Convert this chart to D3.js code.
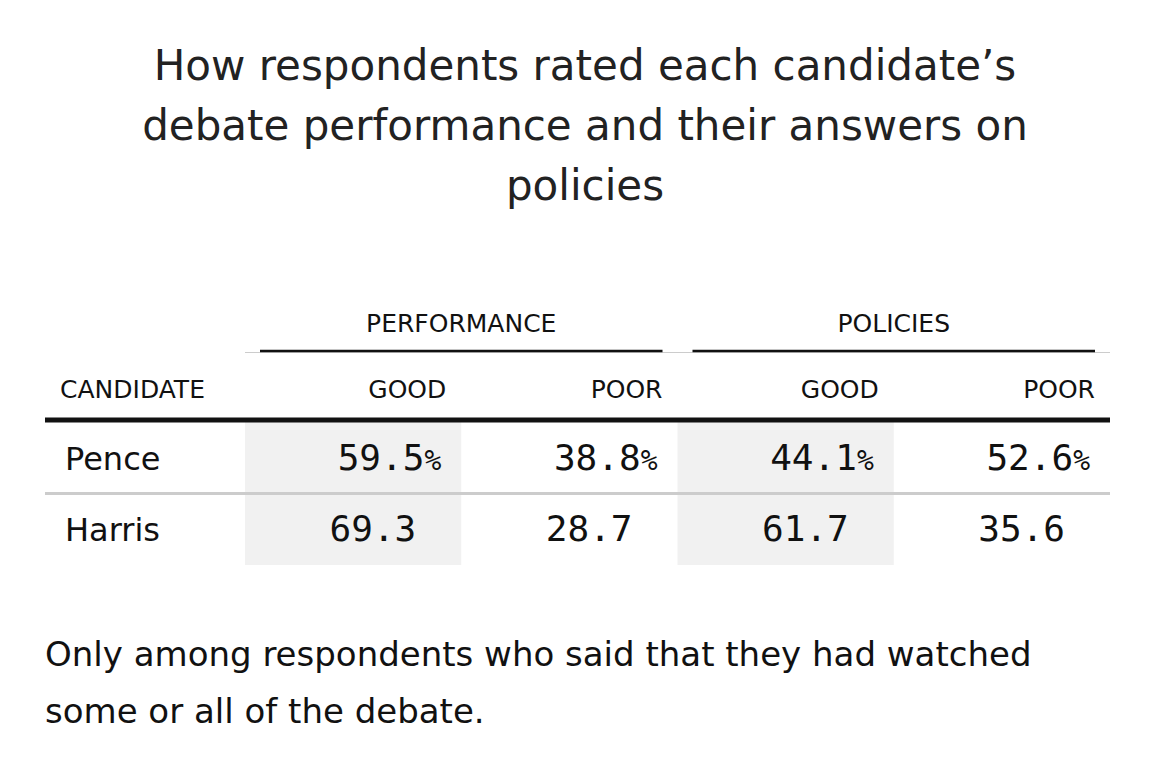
<!DOCTYPE html>
<html><head><meta charset="utf-8">
<script src="https://cdn.jsdelivr.net/npm/d3@7"></script>
<style>body{margin:0;background:#fff}</style>
</head><body><div id="chart"></div>
<script>
var titleLines = ["How respondents rated each candidate\u2019s", "debate performance and their answers on", "policies"];
var groups = ["PERFORMANCE", "POLICIES"];
var columns = ["GOOD", "POOR", "GOOD", "POOR"];
var candidates = ["Pence", "Harris"];
var values = [
  [59.5, 38.8, 44.1, 52.6],
  [69.3, 28.7, 61.7, 35.6]
];
var noteLines = ["Only among respondents who said that they had watched", "some or all of the debate."];

var sans = "'DejaVu Sans', sans-serif";
var mono = "'DejaVu Sans Mono', monospace";

var svg = d3.select("#chart").append("svg")
  .attr("width", 1170).attr("height", 766);

//title
svg.selectAll(".title").data(titleLines).enter().append("text")
  .attr("x", 585).attr("y", function(d, i) {return 80 + i * 60})
  .attr("text-anchor", "middle")
  .style("font-family", sans).style("font-size", "42px").attr("fill", "#222")
  .text(function(d) {return d});

var x = d3.scaleBand().domain(d3.range(columns.length)).range([245, 1110]);
var y = d3.scaleBand().domain(d3.range(candidates.length)).range([422, 565]);

//shaded columns
svg.selectAll(".shade").data([0, 2]).enter().append("rect")
  .attr("x", function(d) {return x(d)}).attr("y", 422)
  .attr("width", x.bandwidth()).attr("height", 143)
  .attr("fill", "#f1f1f1");

//group headers
svg.append("line").attr("x1", 245).attr("x2", 1110).attr("y1", 352.5).attr("y2", 352.5)
  .attr("stroke", "#ccc").attr("stroke-width", 1);
groups.forEach(function(g, i) {
  var x0 = x(i * 2) + 15, x1 = x(i * 2 + 1) + x.bandwidth() - 15;
  svg.append("text").attr("x", (x0 + x1) / 2).attr("y", 332)
    .attr("text-anchor", "middle").style("font-family", sans).style("font-size", "25px")
    .attr("fill", "#111").text(g);
  svg.append("line").attr("x1", x0).attr("x2", x1).attr("y1", 351).attr("y2", 351)
    .attr("stroke", "#111").attr("stroke-width", 2.5);
});

//column headers
svg.append("text").attr("x", 60).attr("y", 398)
  .style("font-family", sans).style("font-size", "25px").attr("fill", "#111").text("CANDIDATE");
svg.selectAll(".colhead").data(columns).enter().append("text")
  .attr("x", function(d, i) {return x(i) + x.bandwidth() - 15}).attr("y", 398)
  .attr("text-anchor", "end").style("font-family", sans).style("font-size", "25px")
  .attr("fill", "#111").text(function(d) {return d});

svg.append("line").attr("x1", 45).attr("x2", 1110).attr("y1", 420).attr("y2", 420)
  .attr("stroke", "#111").attr("stroke-width", 5);

//row separator
svg.append("line").attr("x1", 45).attr("x2", 1110).attr("y1", y(1)).attr("y2", y(1))
  .attr("stroke", "#ccc").attr("stroke-width", 3);

//rows
var rows = svg.selectAll(".row").data(values).enter().append("g")
  .attr("transform", function(d, i) {return "translate(0," + (y(i) + y.bandwidth() / 2 + 12) + ")"});
rows.append("text").attr("x", 65)
  .style("font-family", sans).style("font-size", "32px").attr("fill", "#111")
  .text(function(d, i) {return candidates[i]});
rows.each(function(row, ri) {
  d3.select(this).selectAll(".val").data(row).enter().append("text")
    .attr("x", function(d, i) {return x(i) + x.bandwidth() - (ri == 0 ? 20 : 45)})
    .attr("text-anchor", "end").style("font-family", mono).style("font-size", "36px")
    .attr("fill", "#111")
    .each(function(d) {
      var t = d3.select(this);
      t.append("tspan").text(d.toFixed(1));
      if (ri == 0) t.append("tspan").style("font-size", "28px").text("%");
    });
});

//note
svg.selectAll(".note").data(noteLines).enter().append("text")
  .attr("x", 45).attr("y", function(d, i) {return 666 + i * 57})
  .style("font-family", sans).style("font-size", "34px").attr("fill", "#111")
  .text(function(d) {return d});
</script></body></html>
